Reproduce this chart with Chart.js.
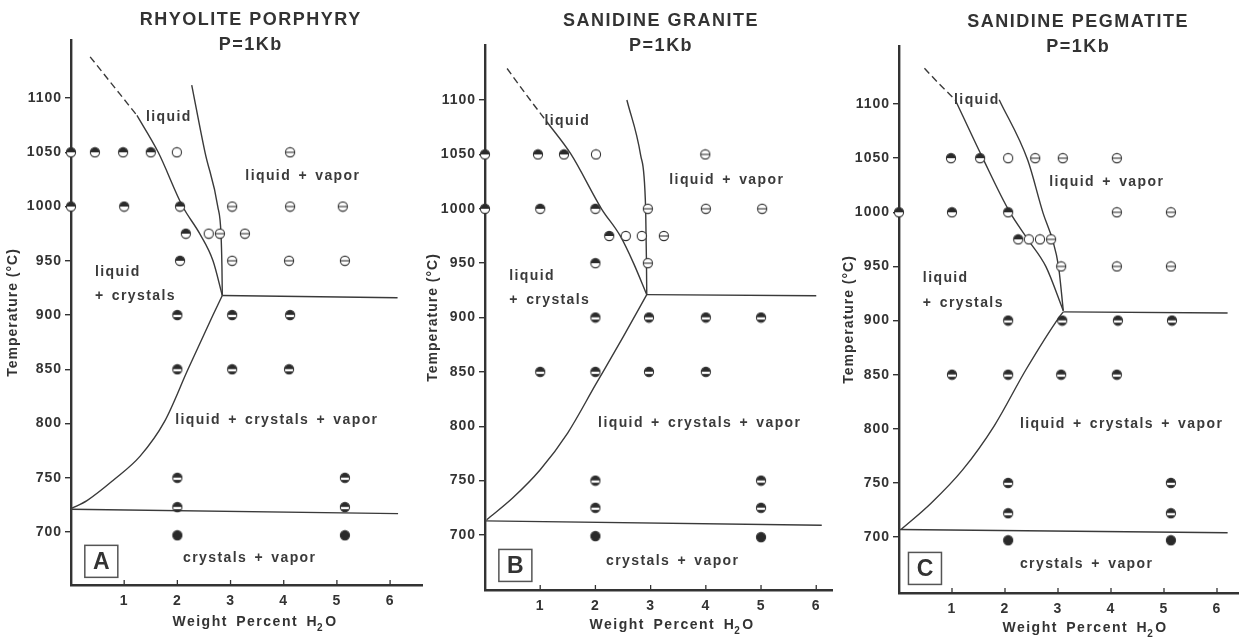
<!DOCTYPE html>
<html>
<head>
<meta charset="utf-8">
<script src="https://cdn.jsdelivr.net/npm/chart.js@4.4.1/dist/chart.umd.min.js"></script>
<style>
  body { margin: 0; background: #fff; width: 1256px; height: 639px; overflow: hidden; position: relative; }
  canvas { position: absolute; top: 0; }
</style>
</head>
<body>
<canvas id="chartA" style="left:0px" width="430" height="639"></canvas>
<canvas id="chartB" style="left:420px" width="420" height="639"></canvas>
<canvas id="chartC" style="left:836px" width="420" height="639"></canvas>
<script>
// axis ticks
const xTicks = [1, 2, 3, 4, 5, 6];
const yTicks = [700, 750, 800, 850, 900, 950, 1000, 1050, 1100];

// A - rhyolite porphyry: runs by phase assemblage [wt% H2O, T]
const aLiquid = [[1.99, 1050], [2.59, 975]];
const aLiqVap = [[4.12, 1050], [3.03, 1000], [4.12, 1000], [5.11, 1000], [2.8, 975], [3.27, 975], [3.03, 950], [4.1, 950], [5.15, 950]];
const aLiqCry = [[0, 1050], [0.45, 1050], [0.98, 1050], [1.5, 1050], [0, 1000], [1, 1000], [2.05, 1000], [2.16, 975], [2.05, 950]];
const aLiqCryVap = [[2, 900], [3.03, 900], [4.12, 900], [2, 850], [3.03, 850], [4.1, 850], [2, 750], [5.15, 750], [2, 723], [5.15, 723]];
const aCryVap = [[2, 697], [5.15, 697]];
// A - phase boundaries
const aLiquidusDash = [[0.36, 1138], [0.8, 1111], [1.24, 1084]];
const aLiquidus = [[1.24, 1084], [1.64, 1050], [2.1, 1000], [2.42, 975], [2.67, 950], [2.845, 918]];
const aVaporCurve = [[2.27, 1112], [2.52, 1050], [2.76, 1000], [2.82, 975], [2.838, 945], [2.845, 918]];
const aTripleLine = [[2.845, 918], [6.14, 916]];
const aSolidus = [[0.02, 722], [0.3, 729], [0.8, 748], [1.3, 770], [1.76, 802], [2.2, 850], [2.67, 900], [2.845, 918]];
const aBaseLine = [[0, 721], [6.15, 717]];

// B - sanidine granite
const bLiquid = [[2.01, 1050], [2.55, 975], [2.84, 975]];
const bLiqVap = [[3.99, 1050], [2.95, 1000], [4, 1000], [5.02, 1000], [3.24, 975], [2.95, 950]];
const bLiqCry = [[0, 1050], [0.96, 1050], [1.43, 1050], [0, 1000], [1, 1000], [2, 1000], [2.25, 975], [2, 950]];
const bLiqCryVap = [[2, 900], [2.97, 900], [4, 900], [5, 900], [1, 850], [2, 850], [2.97, 850], [4, 850], [2, 750], [5, 750], [2, 725], [5, 725]];
const bCryVap = [[2, 699], [5, 698]];
const bLiquidusDash = [[0.4, 1129], [0.76, 1104], [1.12, 1080]];
const bLiquidus = [[1.12, 1080], [1.56, 1050], [2.11, 1000], [2.45, 975], [2.69, 950], [2.93, 921]];
const bVaporCurve = [[2.57, 1100], [2.82, 1049], [2.91, 1000], [2.925, 950], [2.93, 921]];
const bTripleLine = [[2.93, 921], [6.0, 920]];
const bSolidus = [[0.03, 714], [0.5, 734], [1.0, 760], [1.5, 794], [2.0, 838], [2.5, 882], [2.93, 921]];
const bBaseLine = [[0, 713], [6.1, 709]];

// C - sanidine pegmatite
const cLiquid = [[2.06, 1050], [2.45, 975], [2.66, 975]];
const cLiqVap = [[2.57, 1050], [3.09, 1050], [4.11, 1050], [4.11, 1000], [5.13, 1000], [2.87, 975], [3.06, 950], [4.11, 950], [5.13, 950]];
const cLiqCry = [[0.98, 1050], [1.53, 1050], [0, 1000], [1, 1000], [2.06, 1000], [2.25, 975]];
const cLiqCryVap = [[2.06, 900], [3.08, 900], [4.13, 900], [5.15, 900], [1, 850], [2.06, 850], [3.06, 850], [4.11, 850], [2.06, 750], [5.13, 750], [2.06, 722], [5.13, 722]];
const cCryVap = [[2.06, 697], [5.13, 697]];
const cLiquidusDash = [[0.48, 1133], [0.77, 1118], [1.06, 1104]];
const cLiquidus = [[1.06, 1104], [1.58, 1050], [2.08, 1001], [2.43, 975], [2.77, 950], [3.1, 909]];
const cVaporCurve = [[1.89, 1104], [2.43, 1048], [2.72, 999], [2.9, 974], [3.01, 950], [3.1, 909]];
const cTripleLine = [[3.1, 908], [6.2, 907]];
const cSolidus = [[0.04, 707], [0.6, 731], [1.2, 762], [1.8, 803], [2.4, 855], [3.02, 903], [3.1, 908]];
const cBaseLine = [[0, 707], [6.2, 704]];

const ink = '#333';

function makeMarker(kind) {
  const c = document.createElement('canvas');
  c.width = 12; c.height = 12;
  const g = c.getContext('2d');
  const cx = 6, cy = 6, r = 4.6;
  g.beginPath(); g.arc(cx, cy, r, 0, Math.PI * 2);
  g.fillStyle = (kind === 'cv' || kind === 'lcv') ? '#2a2a2a' : '#fff';
  g.fill();
  if (kind === 'lc') {
    g.beginPath(); g.arc(cx, cy, r, Math.PI, 2 * Math.PI); g.closePath();
    g.fillStyle = '#2a2a2a'; g.fill();
  }
  if (kind === 'lcv') {
    g.save();
    g.beginPath(); g.arc(cx, cy, r, 0, Math.PI * 2); g.clip();
    g.fillStyle = '#fff'; g.fillRect(0, cy - 0.2, 12, 2.3);
    g.restore();
  }
  if (kind === 'lv') {
    g.beginPath(); g.moveTo(cx - r, cy); g.lineTo(cx + r, cy);
    g.lineWidth = 1.1; g.strokeStyle = ink; g.stroke();
  }
  g.beginPath(); g.arc(cx, cy, r, 0, Math.PI * 2);
  g.lineWidth = 1.1; g.strokeStyle = ink; g.stroke();
  return c;
}
const markers = {
  l: makeMarker('l'), lv: makeMarker('lv'), lc: makeMarker('lc'),
  lcv: makeMarker('lcv'), cv: makeMarker('cv')
};

function pointSet(data, kind) {
  return { data: data, pointStyle: markers[kind], pointRadius: 5, showLine: false, clip: false, order: 1 };
}
function lineSet(data, dashed, curved) {
  return {
    data: data, showLine: true, pointRadius: 0, borderColor: '#3a3a3a', borderWidth: 1.4,
    borderDash: dashed ? [7, 4] : [], tension: 0,
    cubicInterpolationMode: curved ? 'monotone' : 'default', clip: false, order: 2
  };
}

// text, frame letter and inward x ticks for one panel
function decor(p) {
  return {
    id: 'decor' + p.letter,
    beforeDraw(chart) {
      chart.ctx.letterSpacing = '1px';
    },
    afterDraw(chart) {
      const ctx = chart.ctx, xs = chart.scales.x, ys = chart.scales.y;
      const area = chart.chartArea;
      ctx.save();
      ctx.fillStyle = ink;
      ctx.strokeStyle = ink;
      ctx.textBaseline = 'middle';

      // titles
      ctx.letterSpacing = '1.5px';
      ctx.textAlign = 'center';
      ctx.font = 'bold 18px "Liberation Sans", Arial, sans-serif';
      ctx.fillText(p.title, xs.getPixelForValue(p.titleX), p.titleY);
      ctx.fillText('P=1Kb', xs.getPixelForValue(p.titleX), p.titleY + 25);

      // region labels
      ctx.letterSpacing = '1.4px';
      ctx.wordSpacing = '2px';
      ctx.font = 'bold 14px "Liberation Sans", Arial, sans-serif';
      ctx.fillStyle = '#3a3a3a';
      p.labels.forEach(function (lb) {
        ctx.textAlign = lb.align || 'center';
        ctx.fillText(lb.text, xs.getPixelForValue(lb.x), ys.getPixelForValue(lb.y));
      });

      // framed panel letter
      const bx = xs.getPixelForValue(p.box[0]), by = ys.getPixelForValue(p.box[1]);
      ctx.lineWidth = 1.5;
      ctx.strokeStyle = '#555';
      ctx.strokeRect(bx - 16.5, by - 16, 33, 32);
      ctx.fillStyle = ink;
      ctx.letterSpacing = '0px';
      ctx.textAlign = 'center';
      ctx.font = 'bold 23px "Liberation Sans", Arial, sans-serif';
      ctx.fillText(p.letter, bx, by + 1);

      // inward tick marks on the x axis
      ctx.strokeStyle = ink;
      ctx.lineWidth = 1.3;
      xTicks.forEach(function (v) {
        const px = xs.getPixelForValue(v);
        ctx.beginPath(); ctx.moveTo(px, area.bottom); ctx.lineTo(px, area.bottom - 5); ctx.stroke();
      });

      // x axis title with subscript
      ctx.letterSpacing = '1.5px';
      ctx.wordSpacing = '3px';
      ctx.textAlign = 'left';
      const big = 'bold 14px "Liberation Sans", Arial, sans-serif';
      const small = 'bold 10px "Liberation Sans", Arial, sans-serif';
      const t1 = 'Weight Percent H', t2 = '2', t3 = 'O';
      ctx.font = big; const w1 = ctx.measureText(t1).width; const w3 = ctx.measureText(t3).width;
      ctx.font = small; const w2 = ctx.measureText(t2).width;
      let tx = xs.getPixelForValue(p.xTitleX) - (w1 + w2 + w3) / 2;
      const ty = p.xTitleY;
      ctx.font = big; ctx.fillText(t1, tx, ty); tx += w1;
      ctx.font = small; ctx.fillText(t2, tx - 1, ty + 6); tx += w2;
      ctx.font = big; ctx.fillText(t3, tx, ty);
      ctx.restore();
    }
  };
}

function buildPanel(id, p) {
  const tickFont = { family: '"Liberation Sans", Arial, sans-serif', size: 14, weight: 'bold' };
  new Chart(document.getElementById(id), {
    type: 'scatter',
    data: {
      datasets: [
        lineSet(p.dash, true, true),
        lineSet(p.liquidus, false, true),
        lineSet(p.vapor, false, true),
        lineSet(p.triple, false, false),
        lineSet(p.solidus, false, true),
        lineSet(p.base, false, false),
        pointSet(p.liq, 'l'),
        pointSet(p.liqVap, 'lv'),
        pointSet(p.liqCry, 'lc'),
        pointSet(p.liqCryVap, 'lcv'),
        pointSet(p.cryVap, 'cv')
      ]
    },
    options: {
      responsive: false,
      animation: false,
      events: [],
      layout: { padding: { left: 0, right: p.padRight, top: p.top, bottom: 0 } },
      plugins: { legend: { display: false }, tooltip: { enabled: false }, title: { display: false } },
      scales: {
        x: {
          type: 'linear', min: 0, max: p.xMax,
          afterBuildTicks: function (s) { s.ticks = xTicks.map(function (v) { return { value: v }; }); },
          afterFit: function (s) { s.height = p.xAxisH; },
          grid: { display: false },
          border: { color: ink, width: 2.4 },
          ticks: { color: ink, font: tickFont, padding: 0, maxRotation: 0, callback: function (v) { return String(v); } }
        },
        y: {
          type: 'linear', min: p.yMin, max: p.yMax,
          afterBuildTicks: function (s) { s.ticks = yTicks.map(function (v) { return { value: v }; }); },
          afterFit: function (s) { s.width = p.yAxisW; },
          grid: { display: true, drawOnChartArea: false, drawTicks: true, tickLength: 6, color: ink, lineWidth: 1.4 },
          border: { color: ink, width: 2.4 },
          ticks: { color: ink, font: tickFont, padding: 3, callback: function (v) { return String(v); } },
          title: {
            display: true, text: 'Temperature (°C)', color: ink,
            font: { family: '"Liberation Sans", Arial, sans-serif', size: 14, weight: 'bold' },
            padding: { top: 5, bottom: 0 }
          }
        }
      }
    },
    plugins: [decor(p)]
  });
}

buildPanel('chartA', {
  letter: 'A', title: 'RHYOLITE PORPHYRY', titleX: 3.38, titleY: 20,
  top: 40, padRight: 8, yAxisW: 71, xAxisH: 54, xMax: 6.6, yMin: 651.2, yMax: 1153.5,
  xTitleX: 3.46, xTitleY: 622, box: [0.57, 673],
  labels: [
    { text: 'liquid', x: 1.84, y: 1082 },
    { text: 'liquid + vapor', x: 4.36, y: 1028 },
    { text: 'liquid', x: 0.45, y: 940, align: 'left' },
    { text: '+ crystals', x: 0.45, y: 917, align: 'left' },
    { text: 'liquid + crystals + vapor', x: 3.87, y: 803 },
    { text: 'crystals + vapor', x: 3.36, y: 676 }
  ],
  liq: aLiquid, liqVap: aLiqVap, liqCry: aLiqCry, liqCryVap: aLiqCryVap, cryVap: aCryVap,
  dash: aLiquidusDash, liquidus: aLiquidus, vapor: aVaporCurve, triple: aTripleLine, solidus: aSolidus, base: aBaseLine
});

buildPanel('chartB', {
  letter: 'B', title: 'SANIDINE GRANITE', titleX: 3.19, titleY: 21,
  top: 45, padRight: 7.2, yAxisW: 65, xAxisH: 49, xMax: 6.3, yMin: 649.4, yMax: 1150.6,
  xTitleX: 3.39, xTitleY: 625, box: [0.55, 672],
  labels: [
    { text: 'liquid', x: 1.49, y: 1081 },
    { text: 'liquid + vapor', x: 4.38, y: 1026 },
    { text: 'liquid', x: 0.44, y: 938, align: 'left' },
    { text: '+ crystals', x: 0.44, y: 916, align: 'left' },
    { text: 'liquid + crystals + vapor', x: 3.89, y: 803 },
    { text: 'crystals + vapor', x: 3.4, y: 676 }
  ],
  liq: bLiquid, liqVap: bLiqVap, liqCry: bLiqCry, liqCryVap: bLiqCryVap, cryVap: bCryVap,
  dash: bLiquidusDash, liquidus: bLiquidus, vapor: bVaporCurve, triple: bTripleLine, solidus: bSolidus, base: bBaseLine
});

buildPanel('chartC', {
  letter: 'C', title: 'SANIDINE PEGMATITE', titleX: 3.38, titleY: 22,
  top: 46, padRight: 17.8, yAxisW: 63, xAxisH: 46, xMax: 6.4, yMin: 648.3, yMax: 1153.6,
  xTitleX: 3.51, xTitleY: 628, box: [0.49, 671],
  labels: [
    { text: 'liquid', x: 1.47, y: 1104 },
    { text: 'liquid + vapor', x: 3.92, y: 1028 },
    { text: 'liquid', x: 0.45, y: 939, align: 'left' },
    { text: '+ crystals', x: 0.45, y: 916, align: 'left' },
    { text: 'liquid + crystals + vapor', x: 4.2, y: 804 },
    { text: 'crystals + vapor', x: 3.54, y: 675 }
  ],
  liq: cLiquid, liqVap: cLiqVap, liqCry: cLiqCry, liqCryVap: cLiqCryVap, cryVap: cCryVap,
  dash: cLiquidusDash, liquidus: cLiquidus, vapor: cVaporCurve, triple: cTripleLine, solidus: cSolidus, base: cBaseLine
});
</script>
</body>
</html>
